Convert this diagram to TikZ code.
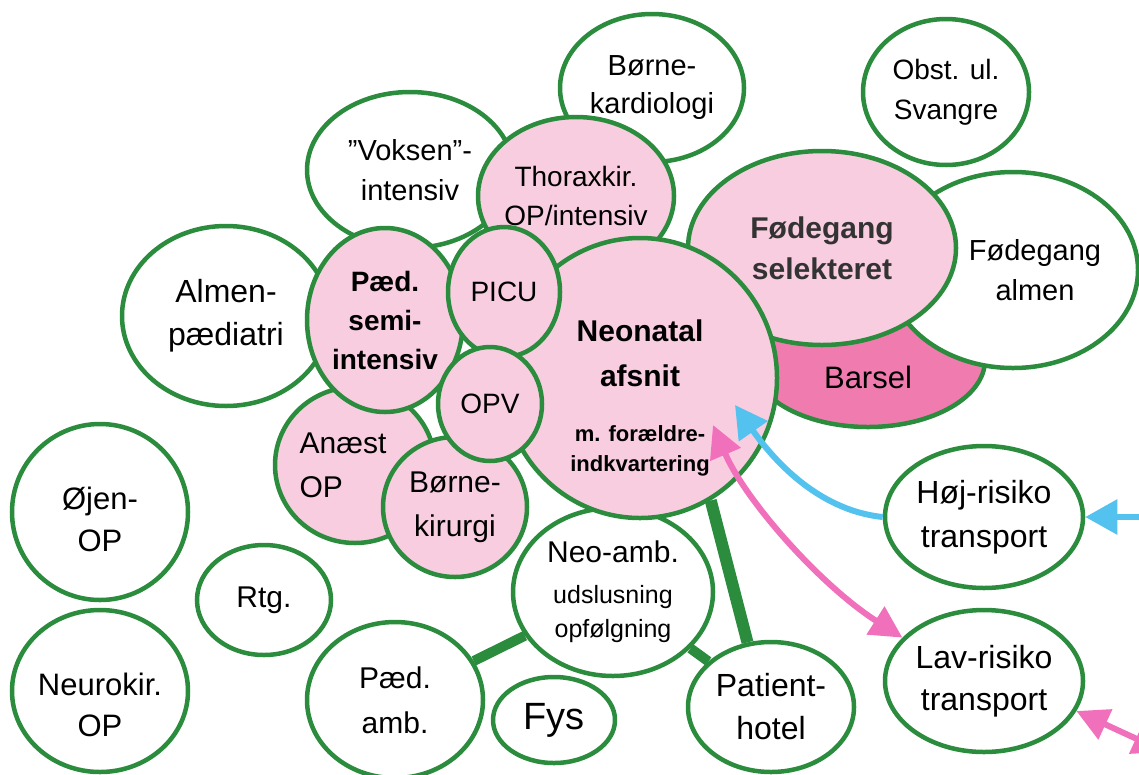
\documentclass[tikz,border=0pt]{standalone}
\usepackage{fontspec}
\setmainfont{Liberation Sans}
\usetikzlibrary{shapes.geometric,arrows.meta}

\definecolor{unitgreen}{RGB}{42,140,60}
\definecolor{wardpink}{RGB}{248,205,224}
\definecolor{barselpink}{RGB}{239,123,175}
\definecolor{hojblue}{RGB}{84,194,238}
\definecolor{lavpink}{RGB}{241,112,188}

\begin{document}
\begin{tikzpicture}[x=1pt,y=-1pt,
  unit/.style={ellipse, draw=unitgreen, line width=4.5pt, fill=white, inner sep=-40pt,
    align=center, font=\fontsize{30}{42}\selectfont},
  ward/.style={unit, fill=wardpink},
  link/.style={draw=unitgreen, line width=10pt},
  hojarrow/.style={draw=hojblue, line width=6pt,
    -{Triangle[length=32pt,width=34pt]}},
  lavarrow/.style={draw=lavpink, line width=6pt,
    {Triangle[length=32pt,width=32pt]}-{Triangle[length=32pt,width=32pt]}}]

\clip (0,0) rectangle (1139,774);

%draw units behind the ward
\node[unit, minimum width=206pt, minimum height=156pt, font=\fontsize{29}{40}\selectfont] (voksen) at (410,170) {”Voksen”-\\intensiv};
\node[unit, minimum width=208pt, minimum height=180pt, font=\fontsize{32}{43}\selectfont] (almen) at (226,316) {Almen-\\pædiatri};
\node[unit, minimum width=184pt, minimum height=148pt, font=\fontsize{29}{38}\selectfont] (kardio) at (652,88) {Børne-\\kardiologi};
\node[unit, minimum width=166pt, minimum height=146pt, font=\fontsize{28}{40}\selectfont] (obst) at (946,92) {Obst. ul.\\Svangre};

%draw ward units
\node[ward, minimum width=196pt, minimum height=158pt, font=\fontsize{28}{39}\selectfont] (thorax) at (576,196) {Thoraxkir.\\OP/intensiv};
\node[ward, minimum width=160pt, minimum height=156pt, align=left, font=\fontsize{30}{44}\selectfont] (anaest) at (355,465) {Anæst\hspace*{24pt}\\OP};
\node[ward, minimum width=156pt, minimum height=184pt, font=\bfseries\fontsize{28}{39}\selectfont] (paed) at (385,320) {Pæd.\\semi-\\intensiv};
\node[ward, minimum width=144pt, minimum height=140pt, font=\fontsize{30}{44}\selectfont] (bkir) at (455,507) {Børne-\\kirurgi};

%draw birth units
\node[unit, fill=barselpink, minimum width=234pt, minimum height=134pt, font=\fontsize{31}{42}\selectfont] (barsel) at (868,360) {\rule{0pt}{58pt}Barsel};
\node[unit, minimum width=250pt, minimum height=196pt, font=\fontsize{29}{40}\selectfont] (falmen) at (1013,270) {\hspace*{44pt}Fødegang\\\hspace*{44pt}almen};
\node[ward, minimum width=268pt, minimum height=194pt, text=black!80, font=\bfseries\fontsize{30}{41}\selectfont] (fsel) at (822,248) {Fødegang\\selekteret};

%draw neonatal
\node[unit, minimum width=200pt, minimum height=168pt] (neoamb) at (613,592) {Neo-amb.\\[-1pt]\fontsize{25}{34}\selectfont udslusning\\[-8pt]\fontsize{25}{34}\selectfont opfølgning};
\node[ward, minimum width=274pt, minimum height=280pt, font=\bfseries\fontsize{30}{45}\selectfont] (neonatal) at (640,378) {\rule{0pt}{62pt}Neonatal\\afsnit\\[10pt]\fontsize{22}{30}\selectfont m. forældre-\\[-15pt]\fontsize{22}{30}\selectfont indkvartering};
\node[ward, minimum width=112pt, minimum height=130pt, font=\fontsize{28}{40}\selectfont] (picu) at (504,292) {PICU};
\node[ward, minimum width=104pt, minimum height=114pt, font=\fontsize{28}{40}\selectfont] (opv) at (490,404) {OPV};

%draw outer units
\node[unit, minimum width=176pt, minimum height=176pt, font=\fontsize{31}{42}\selectfont] (oejen) at (100,512) {\rule{0pt}{38pt}Øjen-\\OP};
\node[unit, minimum width=134pt, minimum height=110pt] (rtg) at (264,600) {Rtg.};
\node[unit, minimum width=176pt, minimum height=162pt, font=\fontsize{31}{41}\selectfont] (neurokir) at (100,691) {\rule{0pt}{50pt}Neurokir.\\OP};
\node[unit, minimum width=176pt, minimum height=156pt, font=\fontsize{30}{45}\selectfont] (paedamb) at (395,700) {Pæd.\\amb.};
\node[unit, minimum width=122pt, minimum height=86pt, font=\fontsize{38}{44}\selectfont] (fys) at (554,720) {Fys};
\node[unit, minimum width=166pt, minimum height=130pt, font=\fontsize{32}{43}\selectfont] (hotel) at (771,707) {Patient-\\hotel};
\node[unit, minimum width=198pt, minimum height=142pt, font=\fontsize{32}{44}\selectfont] (hoj) at (984,517) {Høj-risiko\\transport};
\node[unit, minimum width=198pt, minimum height=142pt, font=\fontsize{32}{42}\selectfont] (lav) at (984,681) {Lav-risiko\\transport};

%draw links
\draw[link, line width=12pt] (neonatal.-60) -- (hotel.110);
\draw[link] (neoamb) -- (paedamb);
\draw[link] (neoamb) -- (hotel);

%draw transport arrows
\coordinate (neotipA) at (735,405);
\coordinate (neotipB) at (713,425);
\coordinate (hojin) at (1165,517);
\coordinate (lavout) at (1165,752);
\draw[hojarrow] (hoj.west) .. controls (815,510) and (770,455) .. (neotipA);
\draw[hojarrow] (hojin) -- (hoj.east);
\draw[lavarrow] (neotipB) .. controls (745,500) and (820,585) .. (lav.152);
\draw[lavarrow] (lav.-18) -- (lavout);
\end{tikzpicture}
\end{document}
